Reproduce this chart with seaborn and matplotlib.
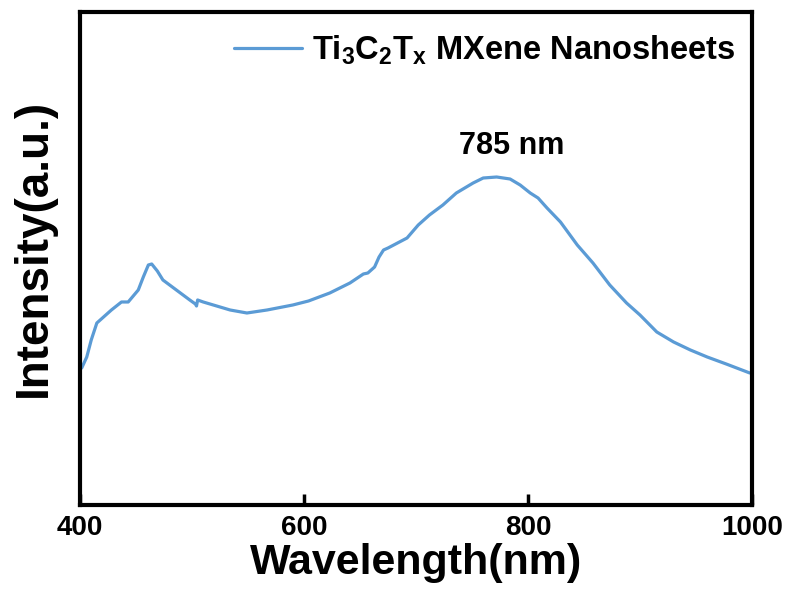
import numpy as np
import pandas as pd
import matplotlib
matplotlib.use("Agg")
import matplotlib.pyplot as plt
import seaborn as sns

# wavelength (nm) and PL intensity (a.u.)
wavelength = [401.5, 406, 410, 415, 421, 428, 437, 443, 452, 456.5, 461, 464,
              469, 474, 486, 498, 503, 504, 505, 510, 519, 534, 549, 567, 590,
              604, 623, 641, 653, 657, 663, 667, 671, 675, 692, 702, 712, 724,
              736, 751, 760, 772, 784, 793, 802, 809, 817, 829, 844, 858, 873,
              888, 900, 915, 930, 945, 960, 977, 998]
intensity = [137, 148, 165, 182, 188, 195, 203, 203, 215, 228, 240, 241,
             234, 225, 215, 205, 201, 199, 205, 203, 200, 195, 192, 195, 200,
             204, 212, 222, 231, 232, 238, 248, 255, 257, 267, 280, 290, 300,
             312, 322, 327, 328, 326, 320, 312, 307, 297, 283, 260, 242, 220,
             202, 190, 173, 163, 155, 148, 141, 132]
series_label = r"Ti$_{3}$C$_{2}$T$_{x}$ MXene Nanosheets"
peak_label = "785 nm"
xticks = [400, 600, 800, 1000]

df = pd.DataFrame({"Wavelength": wavelength, "Intensity": intensity})

sns.set_style("ticks")
plt.rcParams['font.family'] = ['Liberation Sans', 'DejaVu Sans']
plt.rcParams['font.weight'] = 'bold'
plt.rcParams['text.color'] = 'black'
plt.rcParams['axes.labelcolor'] = 'black'
plt.rcParams['xtick.color'] = 'black'
plt.rcParams['mathtext.fontset'] = 'custom'
plt.rcParams['mathtext.rm'] = 'Liberation Sans:bold'
plt.rcParams['mathtext.bf'] = 'Liberation Sans:bold'
plt.rcParams['mathtext.it'] = 'Liberation Sans:bold'
plt.rcParams['mathtext.default'] = 'bf'

fig = plt.figure(figsize=(7.87, 5.92), dpi=100)
ax = fig.add_axes([0.1017, 0.147, 0.8538, 0.8327])

sns.lineplot(data=df, x="Wavelength", y="Intensity", ax=ax, color="#5b9bd5",
             linewidth=2.3, label=series_label)

ax.set_xlim(400, 1000)
ax.set_ylim(0, 493)
ax.set_xticks(xticks)
ax.set_yticks([])
ax.tick_params(axis='x', which='major', bottom=True, direction='in', length=8,
               width=2.5, colors='black', labelsize=20, pad=7)
for lab in ax.get_xticklabels():
    lab.set_fontweight('bold')
for sp in ax.spines.values():
    sp.set_visible(True)
    sp.set_linewidth(3)
    sp.set_color('black')

ax.set_xlabel("Wavelength(nm)", fontsize=31, fontweight='bold', labelpad=2)
ax.set_ylabel("Intensity(a.u.)", fontsize=33, fontweight='bold')
ax.yaxis.set_label_coords(-0.036, 0.521)

ax.text(785, 359, peak_label, ha='center', va='center', fontsize=22, fontweight='bold')

leg = ax.legend(loc='center right', bbox_to_anchor=(0.975, 0.923), frameon=False,
                fontsize=23.5, handlelength=2.1, handletextpad=0.3,
                borderaxespad=0, borderpad=0)
for t in leg.get_texts():
    t.set_fontweight('bold')

fig.savefig("out.png", dpi=100)
